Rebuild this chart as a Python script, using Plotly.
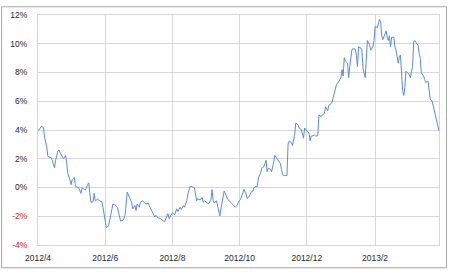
import datetime as dt
import plotly.graph_objects as go

# ---- data ----
start_date = dt.date(2012, 4, 1)
day_offset = [
    0, 2, 3, 5, 6, 8, 9, 12, 13, 15, 16, 18, 19, 21, 23, 24, 25, 26, 27, 29,
    30, 31, 33, 34, 36, 37, 39, 40, 42, 43, 45, 46, 47, 48, 50, 51, 52, 54, 56, 58,
    59, 61, 62, 63, 64, 66, 68, 70, 72, 73, 75, 77, 78, 79, 81, 83, 85, 86, 88, 89,
    90, 92, 93, 95, 96, 98, 100, 101, 103, 104, 106, 107, 109, 111, 113, 115, 116, 118, 119, 121,
    122, 124, 126, 127, 129, 130, 132, 133, 135, 136, 138, 140, 142, 144, 145, 146, 148, 149, 150, 151,
    153, 155, 157, 158, 159, 160, 162, 163, 164, 165, 166, 168, 169, 171, 172, 175, 177, 179, 181, 182,
    184, 186, 187, 189, 190, 192, 193, 195, 196, 198, 199, 200, 202, 203, 205, 206, 207, 208, 209, 211,
    212, 214, 215, 217, 218, 220, 221, 222, 224, 226, 227, 228, 230, 231, 233, 234, 236, 237, 239, 240,
    241, 242, 244, 246, 247, 248, 249, 251, 252, 254, 255, 257, 258, 260, 261, 263, 264, 266, 267, 268,
    270, 271, 273, 274, 275, 276, 277, 278, 279, 281, 282, 283, 285, 286, 288, 289, 290, 291, 293, 294,
    295, 297, 298, 299, 301, 302, 304, 305, 306, 307, 308, 310, 311, 312, 313, 315, 316, 317, 318, 319,
    320, 321, 323, 324, 325, 327, 328, 329, 330, 331, 332, 333, 334, 336, 337, 338, 340, 341, 342, 343,
    345, 346, 347, 348, 350, 351, 352, 354, 355, 356, 358, 359, 361, 362, 363, 364,
]
value_pct = [
    3.97, 4.10, 4.26, 4.15, 3.47, 2.80, 2.16, 2.07, 1.89, 1.37, 1.89, 2.52, 2.61, 2.34, 2.00, 2.07, 2.23, 1.78, 0.99, 0.54,
    0.20, 0.54, 0.70, 0.09, -0.02, -0.02, -0.41, -0.02, -0.14, -0.18, 0.20, 0.32, -0.36, -1.03, -0.99, -0.41, -0.92, -0.81, -0.92, -0.99,
    -1.37, -2.39, -2.79, -2.75, -2.66, -1.94, -1.15, -1.22, -1.37, -1.71, -2.34, -2.28, -2.16, -1.94, -0.32, -0.70, -1.03, -1.49, -1.26, -1.60,
    -1.15, -1.37, -1.03, -0.92, -1.03, -1.15, -1.08, -1.26, -1.60, -1.76, -2.05, -1.94, -2.12, -2.16, -2.28, -2.39, -2.16, -1.82, -2.16, -1.94,
    -1.76, -1.89, -1.49, -1.67, -1.37, -1.53, -1.26, -1.37, -0.92, -0.47, 0.09, 0.05, -0.02, -0.92, -0.77, -0.86, -0.81, -0.70, -1.03, -0.92,
    -1.03, -1.15, -0.81, -0.14, -0.92, -1.08, -0.92, -1.26, -1.60, -1.98, -1.49, -0.81, -0.25, -0.59, -0.81, -1.03, -1.22, -1.37, -1.22, -0.99,
    -0.81, -0.36, -0.14, -0.47, -0.77, -0.59, -0.36, -0.25, -0.02, 0.09, 0.05, 0.66, 0.99, 1.33, 1.44, 1.67, 1.89, 1.10, 1.33, 1.26,
    1.10, 1.78, 2.23, 2.00, 1.89, 1.67, 1.26, 0.88, 0.83, 0.83, 3.02, 3.24, 3.13, 2.91, 3.70, 4.48, 4.37, 4.14, 4.03, 3.80,
    3.43, 4.14, 3.92, 3.80, 3.24, 3.58, 3.58, 3.65, 3.58, 3.60, 5.05, 4.93, 5.05, 5.16, 5.61, 5.34, 5.72, 5.83, 5.95, 6.28,
    7.03, 7.18, 7.36, 7.52, 7.64, 8.20, 7.75, 9.03, 8.80, 8.65, 7.64, 8.42, 9.61, 9.66, 9.61, 9.21, 8.42, 9.78, 9.71, 9.55,
    8.31, 7.64, 8.99, 10.22, 9.93, 9.55, 9.78, 10.22, 11.20, 11.13, 11.13, 11.69, 11.51, 10.56, 10.29, 10.68, 10.90, 10.45, 10.22, 10.56,
    9.78, 10.45, 10.45, 9.78, 9.55, 8.65, 9.10, 9.21, 7.97, 6.74, 6.40, 6.96, 8.09, 7.90, 7.86, 7.64, 8.42, 10.11, 10.22, 10.11,
    9.89, 9.32, 8.99, 7.97, 7.75, 7.52, 7.30, 7.41, 6.74, 6.17, 5.95, 5.61, 5.16, 4.71, 4.26, 3.92,
]

x_tick_dates = ["2012-04-01", "2012-06-01", "2012-08-01", "2012-10-01", "2012-12-01", "2013-02-01"]
x_tick_labels = ["2012/4", "2012/6", "2012/8", "2012/10", "2012/12", "2013/2"]
y_tick_values = [-4, -2, 0, 2, 4, 6, 8, 10, 12]
y_tick_labels = ["-4%", "-2%", "0%", "2%", "4%", "6%", "8%", "10%", "12%"]
x_range = ["2012-04-01", "2013-03-31"]

dates = [start_date + dt.timedelta(days=d) for d in day_offset]

LABEL = "#262626"
NEG = "#e0202a"
GRID = "#d6d6d6"

y_tick_text = [
    f"<span style='color:{NEG}'>{t}</span>" if v < 0 else t
    for v, t in zip(y_tick_values, y_tick_labels)
]

fig = go.Figure(
    go.Scatter(
        x=dates,
        y=value_pct,
        mode="lines",
        line=dict(color="#5b8bdc", width=1),
        hoverinfo="x+y",
    )
)

W, H = 450, 273
ml, mr, mt, mb = 38, 10, 10, 26
pw, ph = W - ml - mr, H - mt - mb

fig.update_layout(
    width=W,
    height=H,
    margin=dict(l=ml, r=mr, t=mt, b=mb, pad=0),
    paper_bgcolor="white",
    plot_bgcolor="white",
    showlegend=False,
    font=dict(family="Liberation Sans, Arial, sans-serif", size=8.5, color=LABEL),
    xaxis=dict(
        type="date",
        range=x_range,
        tickvals=x_tick_dates,
        ticktext=x_tick_labels,
        showgrid=True,
        gridcolor=GRID,
        gridwidth=1,
        showline=True,
        linecolor=GRID,
        linewidth=1,
        mirror=True,
        ticks="",
        ticklabelstandoff=5,
        zeroline=False,
        fixedrange=True,
    ),
    yaxis=dict(
        range=[-4, 12],
        tickvals=y_tick_values,
        ticktext=y_tick_text,
        showgrid=True,
        gridcolor=GRID,
        gridwidth=1,
        showline=True,
        linecolor=GRID,
        linewidth=1,
        mirror=True,
        ticks="",
        ticklabelstandoff=8,
        zeroline=False,
        fixedrange=True,
    ),
    shapes=[
        dict(
            type="rect",
            xref="paper",
            yref="paper",
            x0=(1.5 - ml) / pw,
            x1=(W - 2.5 - ml) / pw,
            y0=(ph + mt - (H - 2.5)) / ph,
            y1=(ph + mt - 1.5) / ph,
            line=dict(color="#a6a6a6", width=1),
            fillcolor="rgba(0,0,0,0)",
            layer="below",
        )
    ],
)

fig.write_html("out.html")
